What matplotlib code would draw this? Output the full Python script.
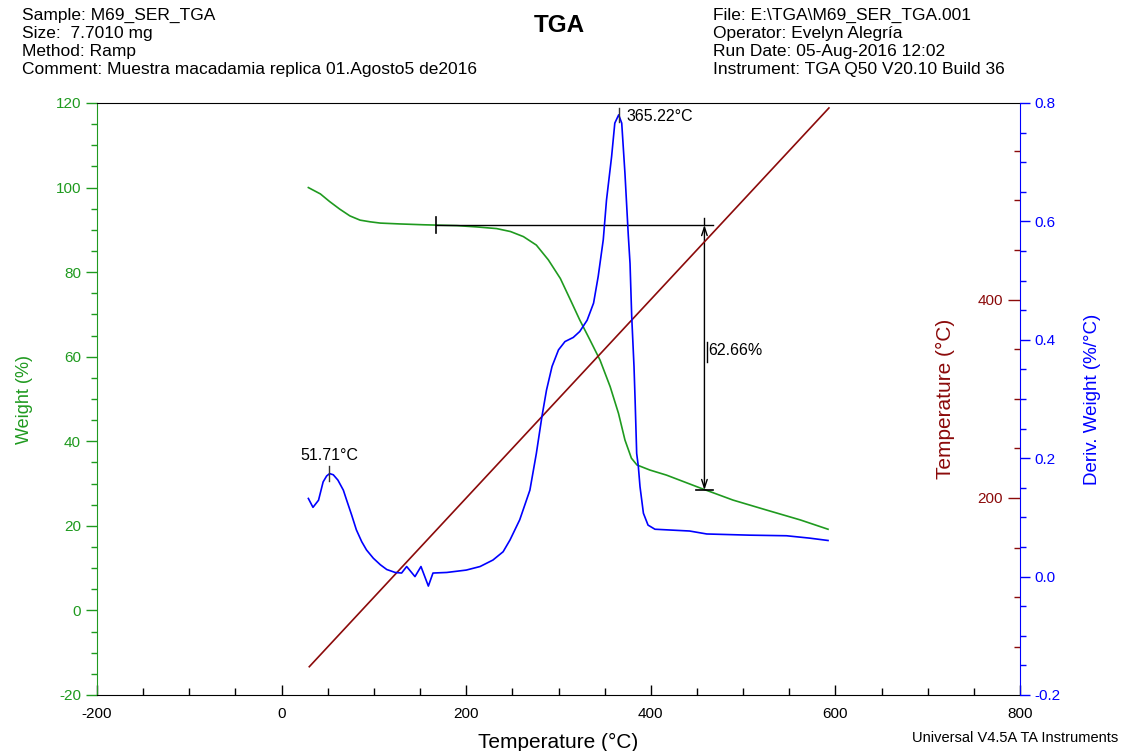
import numpy as np
import matplotlib
matplotlib.use("Agg")
import matplotlib.pyplot as plt
from matplotlib.ticker import MultipleLocator

plt.rcParams["font.family"] = ["Liberation Sans", "DejaVu Sans"]
plt.rcParams["axes.unicode_minus"] = False

# ── data ──────────────────────────────────────────────────────────────────────
weight_T = [29, 42, 52, 63, 74, 85, 96, 107, 128, 154, 190, 211, 233, 248, 262,
            276, 289, 302, 313, 323, 334, 345, 356, 365, 372, 379, 385, 399,
            417, 453, 489, 526, 562, 592]
weight_pct = [100.0, 98.5, 96.7, 94.9, 93.3, 92.3, 91.9, 91.6, 91.4, 91.2, 91.0,
              90.7, 90.3, 89.6, 88.4, 86.4, 82.9, 78.5, 73.4, 68.7, 64.0, 59.2,
              52.9, 46.6, 40.3, 36.0, 34.4, 33.2, 32.0, 29.0, 26.1, 23.7, 21.4, 19.2]

deriv_T = [29, 34, 40, 45, 48.8, 52, 56, 61, 66.9, 70.5, 75.9, 81, 86.8, 92,
           99.4, 107, 113.9, 123, 130, 135.5, 144.5, 151, 159, 164, 179, 200,
           215, 229, 240, 247.5, 258, 269, 276, 282, 287, 293, 300, 307, 316,
           323, 331, 338, 343, 348.5, 352, 357.5, 361, 365.2, 368.5, 372, 375.6,
           377.5, 379.3, 381.8, 383, 384.7, 386.5, 388.3, 392, 397, 404.5, 442,
           460.6, 507, 547, 572, 592]
deriv_val = [0.132, 0.117, 0.129, 0.160, 0.170, 0.174, 0.172, 0.163, 0.146, 0.129,
             0.104, 0.079, 0.059, 0.045, 0.031, 0.020, 0.012, 0.007, 0.006, 0.017,
             0.000, 0.017, -0.016, 0.006, 0.007, 0.011, 0.017, 0.028, 0.042, 0.062,
             0.096, 0.146, 0.208, 0.270, 0.315, 0.355, 0.383, 0.397, 0.404, 0.414,
             0.433, 0.462, 0.507, 0.569, 0.636, 0.709, 0.766, 0.780, 0.766, 0.681,
             0.577, 0.529, 0.440, 0.355, 0.298, 0.208, 0.186, 0.152, 0.107, 0.087,
             0.080, 0.077, 0.072, 0.070, 0.069, 0.065, 0.061]

temp_T = [30, 593]
temp_C = [30, 593]

# peak labels (T, deriv)
peak1 = (51.71, 0.174)
peak2 = (365.22, 0.780)

# step change annotation
step_start_T = 167.3
step_T = 458.1
step_end_T = 467.7
step_top = 91.14
step_bottom = 28.48
step_label = "62.66%"

header_left = ["Sample: M69_SER_TGA", "Size:  7.7010 mg", "Method: Ramp",
               "Comment: Muestra macadamia replica 01.Agosto5 de2016"]
header_right = ["File: E:\\TGA\\M69_SER_TGA.001", "Operator: Evelyn Alegría",
                "Run Date: 05-Aug-2016 12:02", "Instrument: TGA Q50 V20.10 Build 36"]

GREEN = "#1f9a1f"
BLUE = "#0000ff"
DRED = "#8b0a0a"

# ── figure ────────────────────────────────────────────────────────────────────
fig = plt.figure(figsize=(11.26, 7.51), dpi=100)
ax = fig.add_axes([97 / 1126, 1 - 695 / 751, 923 / 1126, 592 / 751])

ax.plot(weight_T, weight_pct, color=GREEN, lw=1.2)
ax.set_xlim(-200, 800)
ax.set_ylim(-20, 120)
ax.xaxis.set_major_locator(MultipleLocator(200))
ax.xaxis.set_minor_locator(MultipleLocator(50))
ax.yaxis.set_major_locator(MultipleLocator(20))
ax.yaxis.set_minor_locator(MultipleLocator(5))
ax.tick_params(axis="x", which="major", direction="in", length=7, width=1,
               labelsize=11, pad=9)
ax.tick_params(axis="x", which="minor", direction="in", length=5, width=1)
ax.tick_params(axis="y", which="major", direction="out", length=8, width=1,
               colors=GREEN, labelsize=11)
ax.tick_params(axis="y", which="minor", direction="out", length=4, width=1,
               colors=GREEN)
ax.spines["left"].set_color(GREEN)
ax.spines["right"].set_visible(False)
ax.set_xlabel("Temperature (°C)", fontsize=15, labelpad=8)
ax.set_ylabel("Weight (%)", fontsize=13, color=GREEN, labelpad=16)

# step annotation
ax.plot([step_start_T, step_end_T], [step_top, step_top], color="black", lw=1)
ax.plot([step_start_T, step_start_T], [step_top - 1.9, step_top + 1.9],
        color="black", lw=1.2)
ax.plot([step_T, step_T], [step_top + 1.7, step_top], color="black", lw=1)
ax.annotate("", xy=(step_T, step_bottom), xytext=(step_T, step_top),
            arrowprops=dict(arrowstyle="<->,head_length=0.6,head_width=0.2",
                            color="black", lw=1, shrinkA=0, shrinkB=0))
ax.plot([448.6, step_end_T], [step_bottom, step_bottom], color="black", lw=1.2)
ax.plot([460.5, 460.5], [58.8, 63.5], color="black", lw=1)
ax.text(462, 61.4, step_label, fontsize=11.5, va="center", ha="left")

# temperature axis (labels left of the right spine)
ax3 = ax.twinx()
ax3.plot(temp_T, temp_C, color=DRED, lw=1.2)
ax3.set_ylim(1.5, 598)
for s in ["top", "bottom", "right"]:
    ax3.spines[s].set_visible(False)
ax3.spines["left"].set_position(("axes", 1.0))
ax3.spines["left"].set_color("none")
ax3.yaxis.tick_left()
ax3.yaxis.set_label_position("left")
ax3.yaxis.set_minor_locator(MultipleLocator(50))
ax3.set_yticks([200, 400])
ax3.tick_params(axis="y", which="major", direction="out", length=9, width=1,
                colors=DRED, labelsize=11)
ax3.tick_params(axis="y", which="minor", direction="out", length=4, width=1,
                colors=DRED)
ax3.set_ylabel("Temperature (°C)", fontsize=15, color=DRED, labelpad=16)

# derivative axis
ax2 = ax.twinx()
ax2.plot(deriv_T, deriv_val, color=BLUE, lw=1.2)
ax2.set_ylim(-0.2, 0.8)
for s in ["top", "bottom", "left"]:
    ax2.spines[s].set_visible(False)
ax2.spines["right"].set_color(BLUE)
ax2.yaxis.set_major_locator(MultipleLocator(0.2))
ax2.yaxis.set_minor_locator(MultipleLocator(0.05))
ax2.yaxis.set_major_formatter(plt.FormatStrFormatter("%.1f"))
ax2.tick_params(axis="y", which="major", direction="out", length=7, width=1,
                colors=BLUE, labelsize=11)
ax2.tick_params(axis="y", which="minor", direction="out", length=4, width=1,
                colors=BLUE)
ax2.set_ylabel("Deriv. Weight (%/°C)", fontsize=13.5, color=BLUE, labelpad=17)

# peak labels
for (pt, pv), ha, dx, dy in [(peak1, "center", 0, 0.03), (peak2, "left", 8, -0.003)]:
    ax2.plot([pt, pt], [pv - 0.012, pv + 0.012], color="#333333", lw=1)
    ax2.text(pt + dx, pv + dy, f"{pt:.2f}°C", fontsize=11.5, ha=ha, va="center")

# header
for i, line in enumerate(header_left):
    fig.text(22 / 1126, 1 - (15 + 18.2 * i) / 751, line, fontsize=12.5,
             va="center", ha="left")
for i, line in enumerate(header_right):
    fig.text(713 / 1126, 1 - (15 + 18.2 * i) / 751, line, fontsize=12.5,
             va="center", ha="left")
fig.text(559 / 1126, 1 - 25 / 751, "TGA", fontsize=17.5, fontweight="bold",
         va="center", ha="center")
fig.text(1118 / 1126, 1 - 738 / 751, "Universal V4.5A TA Instruments",
         fontsize=10.5, va="center", ha="right")

fig.savefig("out.png", dpi=100)
